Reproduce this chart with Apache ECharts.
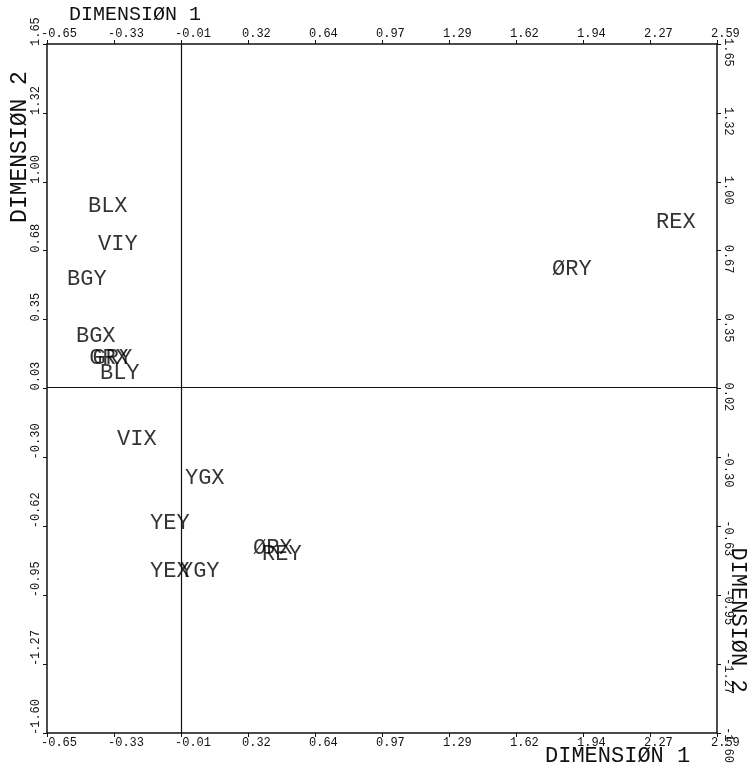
<!DOCTYPE html>
<html>
<head>
<meta charset="utf-8">
<script src="https://cdn.jsdelivr.net/npm/echarts@6/dist/echarts.min.js"></script>
<style>
  html, body { margin: 0; padding: 0; background: #fff; }
  #chart { width: 754px; height: 768px; }
</style>
</head>
<body>
<div id="chart"></div>
<script>
// stimulus codes and their coordinates on the two dimensions
const codes = ['BLX', 'VIY', 'BGY', 'BGX', 'GRX', 'GRY', 'BLY', 'VIX', 'YGX', 'YEY', 'YEX', 'YGY', 'ØRX', 'REY', 'REX', 'ØRY'];
const dim1 = [-0.452, -0.403, -0.553, -0.510, -0.446, -0.430, -0.394, -0.311, 0.017, -0.152, -0.152, -0.007, 0.346, 0.390, 2.295, 1.792];
const dim2 = [0.885, 0.707, 0.543, 0.270, 0.170, 0.166, 0.096, -0.215, -0.398, -0.610, -0.835, -0.835, -0.727, -0.756, 0.808, 0.590];

// tick labels as printed on the plot
const xTickLabels = ['-0.65', '-0.33', '-0.01', '0.32', '0.64', '0.97', '1.29', '1.62', '1.94', '2.27', '2.59'];
const yLeftLabels = ['-1.60', '-1.27', '-0.95', '-0.62', '-0.30', '0.03', '0.35', '0.68', '1.00', '1.32', '1.65'];
const yRightLabels = ['-1.60', '-1.27', '-0.95', '-0.63', '-0.30', '0.02', '0.35', '0.67', '1.00', '1.32', '1.65'];

// where the two reference lines cross
const crossX = -0.002;
const crossY = 0.025;

const ink = '#111';
const mono = 'Liberation Mono';

let myChart = echarts.init(document.getElementById('chart'));

function xAxisCfg(pos) {
  return {
    type: 'value',
    position: pos,
    min: -0.65,
    max: 2.59,
    interval: 0.324,
    axisLine: { show: true, onZero: false, lineStyle: { color: ink, width: 1.5 } },
    axisTick: { show: true, length: 4, lineStyle: { color: ink } },
    splitLine: { show: false },
    axisLabel: {
      margin: 4,
      align: 'left',
      padding: [0, 0, 0, -6],
      fontFamily: mono,
      fontSize: 12,
      color: ink,
      formatter: (v, i) => xTickLabels[i]
    }
  };
}

function yAxisCfg(pos, labels) {
  return {
    type: 'value',
    position: pos,
    min: -1.6,
    max: 1.65,
    interval: 0.325,
    axisLine: { show: true, onZero: false, lineStyle: { color: ink, width: 1.5 } },
    axisTick: { show: true, length: 4, lineStyle: { color: ink } },
    splitLine: { show: false },
    axisLabel: {
      margin: 5,
      rotate: pos === 'left' ? 90 : -90,
      align: 'left',
      verticalAlign: 'bottom',
      padding: pos === 'left' ? [0, 0, 0, -2] : [0, 0, 0, -6],
      fontFamily: mono,
      fontSize: 12,
      color: ink,
      formatter: (v, i) => labels[i]
    }
  };
}

myChart.setOption({
  animation: false,
  backgroundColor: '#fff',
  grid: { left: 47, right: 37, top: 44, bottom: 35 },
  xAxis: [xAxisCfg('bottom'), xAxisCfg('top')],
  yAxis: [yAxisCfg('left', yLeftLabels), yAxisCfg('right', yRightLabels)],
  graphic: [
    {
      type: 'text', x: 69, y: 15,
      style: { text: 'DIMENSIØN 1', font: '20px "Liberation Mono"', fill: ink, align: 'left', verticalAlign: 'middle' }
    },
    {
      type: 'text', x: 545, y: 756,
      style: { text: 'DIMENSIØN 1', font: '22px "Liberation Mono"', fill: ink, align: 'left', verticalAlign: 'middle' }
    },
    {
      type: 'text', x: 20, y: 147, rotation: Math.PI / 2,
      style: { text: 'DIMENSIØN 2', font: '23px "Liberation Mono"', fill: ink, align: 'center', verticalAlign: 'middle' }
    },
    {
      type: 'text', x: 738, y: 620, rotation: -Math.PI / 2,
      style: { text: 'DIMENSIØN 2', font: '22px "Liberation Mono"', fill: ink, align: 'center', verticalAlign: 'middle' }
    }
  ],
  series: [
    {
      type: 'scatter',
      xAxisIndex: 0,
      yAxisIndex: 0,
      symbolSize: 0,
      data: codes.map((c, i) => ({ name: c, value: [dim1[i], dim2[i]] })),
      label: {
        show: true,
        position: 'right',
        distance: 0,
        formatter: '{b}',
        fontFamily: mono,
        fontSize: 22,
        color: '#000'
      },
      emphasis: { disabled: true },
      markLine: {
        silent: true,
        symbol: 'none',
        label: { show: false },
        lineStyle: { color: ink, width: 1.2, type: 'solid' },
        data: [{ xAxis: crossX }, { yAxis: crossY }]
      }
    }
  ]
});
myChart.resize();
</script>
</body>
</html>
